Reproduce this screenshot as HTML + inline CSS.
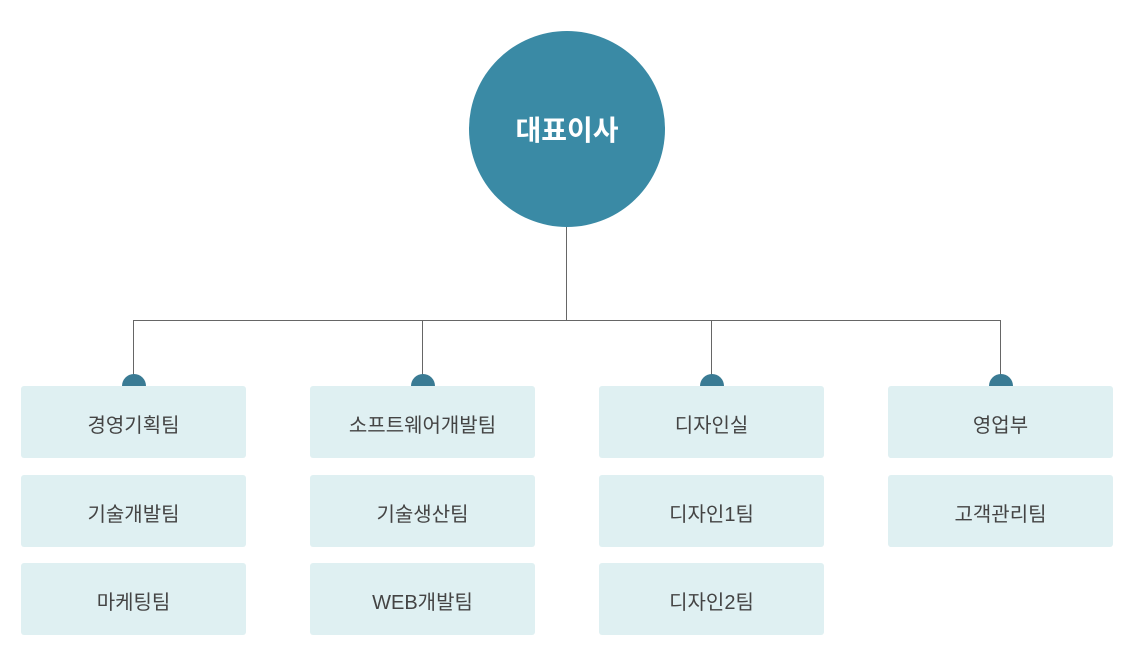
<!DOCTYPE html>
<html><head><meta charset="utf-8"><style>
body{margin:0;width:1135px;height:666px;background:#fff;position:relative;overflow:hidden;font-family:"Liberation Sans","Noto Sans CJK KR",sans-serif}
.c{position:absolute;left:469px;top:31px;width:196px;height:196px;border-radius:50%;background:#3a8aa5;color:#fff;font-size:28px;font-weight:bold;display:flex;align-items:center;justify-content:center}
.l{position:absolute;background:#666}
.d{position:absolute;width:24px;height:12px;border-radius:12px 12px 0 0;background:#3a7b94}
.b{position:absolute;width:225px;height:69px;padding-top:3px;background:#dff0f2;border-radius:3px;color:#444;font-size:20px;display:flex;align-items:center;justify-content:center}
</style></head><body>
<div class="c">대표이사</div>
<div class="l" style="left:566px;top:227px;width:1px;height:94px"></div>
<div class="l" style="left:133px;top:320px;width:868px;height:1px"></div>
<div class="l" style="left:133px;top:320px;width:1px;height:56px"></div>
<div class="l" style="left:422px;top:320px;width:1px;height:56px"></div>
<div class="l" style="left:711px;top:320px;width:1px;height:56px"></div>
<div class="l" style="left:1000px;top:320px;width:1px;height:56px"></div>
<div class="d" style="left:122px;top:374px"></div>
<div class="d" style="left:411px;top:374px"></div>
<div class="d" style="left:700px;top:374px"></div>
<div class="d" style="left:989px;top:374px"></div>
<div class="b" style="left:21px;top:386px">경영기획팀</div>
<div class="b" style="left:21px;top:475px">기술개발팀</div>
<div class="b" style="left:21px;top:563px">마케팅팀</div>
<div class="b" style="left:310px;top:386px">소프트웨어개발팀</div>
<div class="b" style="left:310px;top:475px">기술생산팀</div>
<div class="b" style="left:310px;top:563px">WEB개발팀</div>
<div class="b" style="left:599px;top:386px">디자인실</div>
<div class="b" style="left:599px;top:475px">디자인1팀</div>
<div class="b" style="left:599px;top:563px">디자인2팀</div>
<div class="b" style="left:888px;top:386px">영업부</div>
<div class="b" style="left:888px;top:475px">고객관리팀</div>
</body></html>
